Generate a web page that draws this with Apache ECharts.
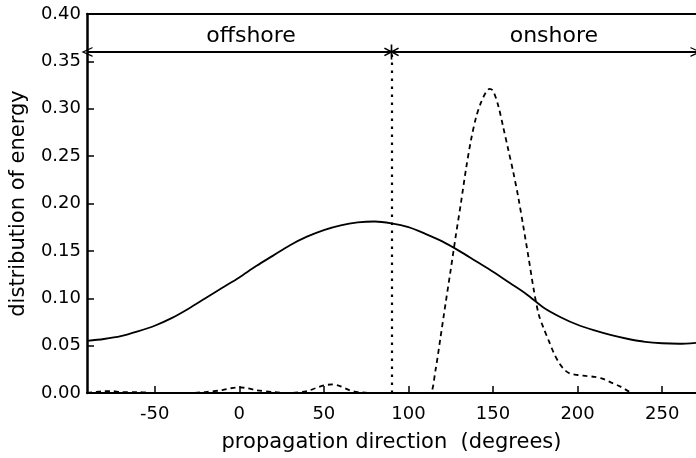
<!DOCTYPE html>
<html>
<head>
<meta charset="utf-8">
<script src="https://cdn.jsdelivr.net/npm/echarts@6/dist/echarts.min.js"></script>
<style>html,body{margin:0;padding:0;background:#fff;}#c{width:696px;height:458px;}</style>
</head>
<body>
<div id="c"></div>
<script>
// ---- data ----
const xTicks = [-50, 0, 50, 100, 150, 200, 250];
const dirSolid = [-90,-80,-70,-60,-50,-40,-30,-20,-10,0,10,20,30,40,50,60,70,80,90,100,110,120,130,140,150,160,170,180,190,200,210,220,230,240,250,260,270];
const energySolid = [0.055,0.057,0.060,0.065,0.071,0.079,0.089,0.100,0.111,0.122,0.134,0.145,0.156,0.165,0.172,0.177,0.180,0.181,0.179,0.175,0.168,0.160,0.150,0.139,0.128,0.116,0.104,0.090,0.080,0.072,0.066,0.061,0.057,0.054,0.0525,0.052,0.053];
const dirDashed = [-90,-85,-80,-75,-70,-60,-50,-40,-30,-20,-10,-5,0,5,10,20,30,40,45,50,55,60,65,70,80,90,100,110,113,116,119,122,125,128,131,134,137,140,143,146,148,150,153,156,159,162,165,168,171,174,177,180,183,186,189,192,195,200,205,210,215,220,225,230,232,240,270];
const energyDashed = [0,0.001,0.002,0.002,0.001,0.001,0,0,0,0.001,0.003,0.005,0.006,0.005,0.003,0.001,0,0.002,0.005,0.008,0.009,0.007,0.003,0.001,0,0,0,0,0,0.024,0.059,0.095,0.130,0.166,0.200,0.236,0.267,0.291,0.307,0.318,0.321,0.319,0.304,0.281,0.257,0.233,0.206,0.175,0.143,0.110,0.083,0.068,0.055,0.042,0.032,0.025,0.021,0.019,0.018,0.017,0.015,0.011,0.007,0.002,0,0,0];
const boundaryDir = 90;
const arrowLevel = 0.36;
const regionLabels = ['offshore', 'onshore'];

const FONT = 'DejaVu Sans';
const chevron = 'path://M5,0 L10,10 L8.6,10 L5,2.6 L1.4,10 L0,10 Z';
const asterisk = 'path://M4.5,0 L5.5,0 L5.5,10 L4.5,10 Z M0.95,2.07 L9.55,7.07 L9.05,7.93 L0.45,2.93 Z M0.45,7.07 L9.05,2.07 L9.55,2.93 L0.95,7.93 Z';

const chart = echarts.init(document.getElementById('c'), null, {renderer: 'canvas'});
chart.setOption({
  backgroundColor: '#fff',
  animation: false,
  grid: {left: 87, right: -5, top: 14, bottom: 65},
  xAxis: [{
    type: 'value', min: -90, max: 270,
    name: 'propagation direction  (degrees)', nameLocation: 'middle', nameGap: 39,
    nameTextStyle: {fontFamily: FONT, fontSize: 21, color: '#000'},
    axisLine: {onZero: false, lineStyle: {color: '#000', width: 2}},
    axisTick: {inside: true, length: 7, lineStyle: {color: '#000', width: 1.5}, customValues: xTicks},
    axisLabel: {fontFamily: FONT, fontSize: 18, color: '#000', margin: 12, customValues: xTicks},
    splitLine: {show: false}
  }, {
    type: 'value', min: -90, max: 270, position: 'top',
    axisLine: {show: true, onZero: false, lineStyle: {color: '#000', width: 2}},
    axisTick: {show: false}, axisLabel: {show: false}, splitLine: {show: false}
  }],
  yAxis: {
    type: 'value', min: 0, max: 0.4, interval: 0.05,
    name: 'distribution of energy', nameLocation: 'middle', nameGap: 58,
    nameTextStyle: {fontFamily: FONT, fontSize: 21, color: '#000'},
    axisLine: {show: true, onZero: false, lineStyle: {color: '#000', width: 2.5}},
    axisTick: {show: true, inside: true, length: 7, lineStyle: {color: '#000', width: 1.5}},
    axisLabel: {fontFamily: FONT, fontSize: 18, color: '#000', margin: 6, formatter: v => v.toFixed(2)},
    splitLine: {show: false}
  },
  series: [{
    type: 'line', name: 'solid', showSymbol: false, smooth: 0.3,
    data: dirSolid.map((d, i) => [d, energySolid[i]]),
    lineStyle: {color: '#000', width: 1.8},
    markLine: {
      silent: true, animation: false,
      symbol: ['none', 'none'],
      label: {show: false},
      data: [
        [{coord: [boundaryDir, 0], symbol: 'none', lineStyle: {type: [2.5, 5.5], width: 2.2, color: '#000'}},
         {coord: [boundaryDir, arrowLevel], symbol: 'none'}],
        [{coord: [-90, arrowLevel], symbol: chevron, symbolSize: [10, 11], lineStyle: {type: 'solid', width: 2, color: '#000'}},
         {coord: [270, arrowLevel], symbol: chevron, symbolSize: [10, 11]}]
      ]
    },
    markPoint: {
      silent: true, animation: false,
      data: [
        {coord: [boundaryDir, arrowLevel], symbol: asterisk, symbolSize: 15, itemStyle: {color: '#000'}, label: {show: false}},
        {coord: [7, 0.376], symbol: 'circle', symbolSize: 0,
         label: {show: true, position: 'inside', formatter: regionLabels[0], fontFamily: FONT, fontSize: 22, color: '#000'}},
        {coord: [186, 0.376], symbol: 'circle', symbolSize: 0,
         label: {show: true, position: 'inside', formatter: regionLabels[1], fontFamily: FONT, fontSize: 22, color: '#000'}}
      ]
    }
  }, {
    type: 'line', name: 'dashed', showSymbol: false, smooth: 0.3,
    data: dirDashed.map((d, i) => [d, energyDashed[i]]),
    lineStyle: {color: '#000', width: 1.8, type: [5, 4]}
  }]
});
</script>
</body>
</html>
